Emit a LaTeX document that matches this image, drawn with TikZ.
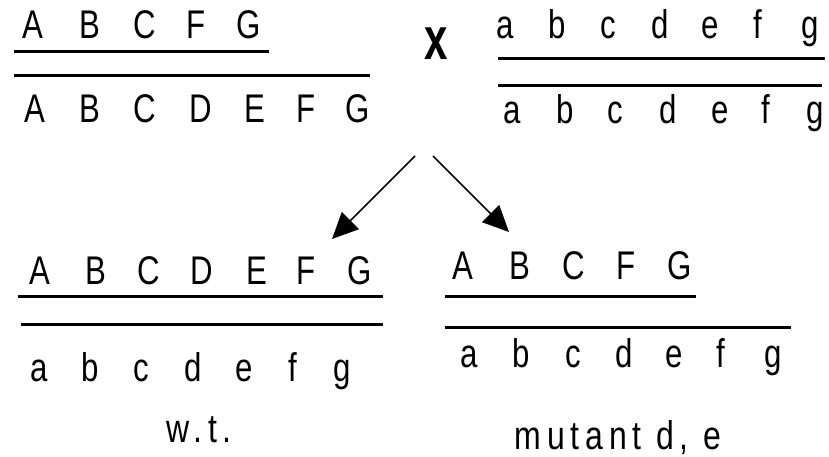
\documentclass[tikz,border=0pt]{standalone}
\usepackage{fontspec}
\setmainfont{Liberation Sans}
\newfontfamily\pixfont[LetterSpace=18]{Liberation Sans}
\usetikzlibrary{arrows.meta}
\newcommand{\sqz}[1]{\scalebox{0.78}[1]{#1}}
\begin{document}
\begin{tikzpicture}[x=1pt,y=-1pt,
  gene/.style={inner sep=0pt, anchor=base, font=\fontsize{40}{40}\selectfont},
  label/.style={inner sep=0pt, anchor=base, font=\pixfont\fontsize{40}{40}\selectfont},
  chrom/.style={line width=3pt},
  cross/.style={line width=1.5pt, -{Triangle[length=26pt,width=24pt]}}]
\useasboundingbox (0,0) rectangle (829,457);
% top-left parent
\foreach \l/\x [count=\i] in {A/33,B/90,C/145,F/196,G/249}
  \node[gene] (pa\i) at (\x,39) {\sqz{\l}};
\draw[chrom] (14,52) -- (269,52);
\draw[chrom] (14,76) -- (370,76);
\foreach \l/\x [count=\i] in {A/35,B/90,C/145,D/201,E/255,F/306,G/358}
  \node[gene] (pb\i) at (\x,123) {\sqz{\l}};
% cross sign
\node[inner sep=0pt, font=\bfseries\fontsize{60}{60}\selectfont] (cross) at (436,44) {\scalebox{0.7}[1]{x}};
% top-right parent
\foreach \l/\x [count=\i] in {a/505,b/557,c/608,d/660,e/710,f/758,g/810}
  \node[gene] (qa\i) at (\x,39) {\sqz{\l}};
\draw[chrom] (498,59) -- (825,59);
\draw[chrom] (498,86) -- (822,86);
\foreach \l/\x [count=\i] in {a/512,b/565,c/615,d/668,e/720,f/766,g/815}
  \node[gene] (qb\i) at (\x,124) {\sqz{\l}};
% arrows
\coordinate (s1) at (415,156);
\coordinate (t1) at (332,239);
\coordinate (s2) at (433,156);
\coordinate (t2) at (509,232);
\draw[cross] (s1) -- (t1);
\draw[cross] (s2) -- (t2);
% bottom-left offspring
\foreach \l/\x [count=\i] in {A/40,B/96,C/149,D/202,E/257,F/306,G/360}
  \node[gene] (ra\i) at (\x,284) {\sqz{\l}};
\draw[chrom] (18,296) -- (383,296);
\draw[chrom] (21,324) -- (383,324);
\foreach \l/\x [count=\i] in {a/39,b/90,c/141,d/193,e/244,f/293,g/342}
  \node[gene] (rb\i) at (\x,381) {\sqz{\l}};
\node[label] (wt) at (199,442) {\scalebox{0.8}[1]{w.t.}};
% bottom-right offspring
\foreach \l/\x [count=\i] in {A/463,B/520,C/574,F/626,G/680}
  \node[gene] (sa\i) at (\x,279) {\sqz{\l}};
\draw[chrom] (445,296) -- (696,296);
\draw[chrom] (445,327) -- (791,327);
\foreach \l/\x [count=\i] in {a/469,b/521,c/573,d/624,e/674,f/721,g/773}
  \node[gene] (sb\i) at (\x,367) {\sqz{\l}};
\node[label] (mut) at (618,449) {\scalebox{0.8}[1]{mutant d, e}};
\end{tikzpicture}
\end{document}
